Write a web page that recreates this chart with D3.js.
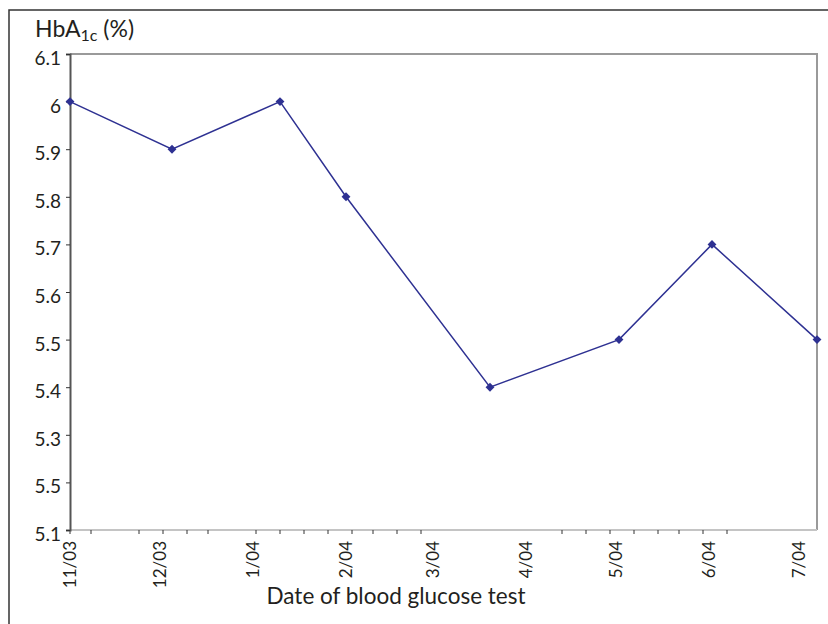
<!DOCTYPE html>
<html>
<head>
<meta charset="utf-8">
<script src="https://cdn.jsdelivr.net/npm/d3@7"></script>
<style>
  body { margin: 0; background: #fff; }
  text { font-family: Lato, "Open Sans", sans-serif; fill: #231f20; }
</style>
</head>
<body>
<svg id="id_svg" width="828" height="624"></svg>
<script>
// test dates and HbA1c values
dates = ["2003-11-01", "2003-12-05", "2004-01-10", "2004-02-01", "2004-03-20", "2004-05-02", "2004-06-02", "2004-07-07"]
values = [6.0, 5.9, 6.0, 5.8, 5.4, 5.5, 5.7, 5.5]

// y ticks, labels as printed (the second-lowest really does read 5.5)
yTicks = [6.1, 6.0, 5.9, 5.8, 5.7, 5.6, 5.5, 5.4, 5.3, 5.2, 5.1]
yLabels = ["6.1", "6", "5.9", "5.8", "5.7", "5.6", "5.5", "5.4", "5.3", "5.5", "5.1"]

// month labels along the bottom
monthDates = ["2003-11-01", "2003-12-01", "2004-01-01", "2004-02-01", "2004-03-01", "2004-04-01", "2004-05-01", "2004-06-01", "2004-07-01"]
monthLabels = ["11/03", "12/03", "1/04", "2/04", "3/04", "4/04", "5/04", "6/04", "7/04"]

// small tick marks on the date axis
minorTicks = ["2003-11-01", "2003-11-08", "2003-11-24", "2003-12-02", "2003-12-10", "2003-12-17",
    "2004-01-02", "2004-01-10", "2004-01-18", "2004-01-26", "2004-02-03", "2004-02-10",
    "2004-02-18", "2004-02-26", "2004-04-13", "2004-04-21", "2004-04-29", "2004-05-07",
    "2004-05-15", "2004-05-22", "2004-05-30", "2004-06-07"]

xDomain = ["2003-11-01", "2004-07-07"]

chart = function() {
    const margin = { left: 70, right: 11, top: 54, bottom: 94 },
        width = 828,
        height = 624,
        parse = d3.utcParse("%Y-%m-%d");

    const svg = d3.select("#id_svg");

    const x = d3.scaleUtc()
        .domain(xDomain.map(parse))
        .range([margin.left, width - margin.right]);

    const y = d3.scaleLinear()
        .domain([5.1, 6.1])
        .range([height - margin.bottom, margin.top]);

    // outer frame (only top and left show in the picture)
    svg.append("path")
        .attr("d", `M9,${height} V10 H${width}`)
        .attr("fill", "none")
        .attr("stroke", "#333")
        .attr("stroke-width", 1.5);

    // plot border: top and right in grey
    svg.append("path")
        .attr("d", `M${margin.left},${y(6.1)} H${x.range()[1]} V${y(5.1)}`)
        .attr("fill", "none")
        .attr("stroke", "#9a9a9a")
        .attr("stroke-width", 2);

    // bottom axis line
    svg.append("line")
        .attr("x1", margin.left).attr("x2", x.range()[1])
        .attr("y1", y(5.1)).attr("y2", y(5.1))
        .attr("stroke", "#c4c4c4")
        .attr("stroke-width", 2);

    svg.append("g")
        .selectAll("line")
        .data(minorTicks.map(parse))
        .join("line")
        .attr("x1", d => x(d)).attr("x2", d => x(d))
        .attr("y1", y(5.1)).attr("y2", y(5.1) + 4)
        .attr("stroke", "#333")
        .attr("stroke-width", 1);

    svg.append("g")
        .selectAll("text")
        .data(monthDates.map(parse))
        .join("text")
        .attr("transform", d => `translate(${x(d)},${y(5.1) + 11}) rotate(-90)`)
        .attr("text-anchor", "end")
        .attr("dy", "0.36em")
        .attr("font-size", 17)
        .text((d, i) => monthLabels[i]);

    // left axis
    const yAxis = d3.axisLeft(y)
        .tickValues(yTicks)
        .tickSize(4)
        .tickFormat((d, i) => yLabels[i]);

    const gy = svg.append("g")
        .attr("transform", `translate(${margin.left},0)`)
        .call(yAxis);
    gy.select(".domain").attr("stroke", "#555").attr("stroke-width", 2);
    gy.selectAll(".tick line").attr("stroke", "#333");
    gy.selectAll(".tick text")
        .attr("x", -9)
        .attr("dy", "0.55em")
        .attr("font-size", 19)
        .attr("font-family", "Lato, sans-serif")
        .attr("fill", "#231f20");

    // the series
    const line = d3.line()
        .x((d, i) => x(parse(dates[i])))
        .y(d => y(d));

    svg.append("path")
        .datum(values)
        .attr("d", line)
        .attr("fill", "none")
        .attr("stroke", "#2e3192")
        .attr("stroke-width", 1.5);

    svg.append("g")
        .selectAll("path")
        .data(values)
        .join("path")
        .attr("transform", (d, i) => `translate(${x(parse(dates[i]))},${y(d)})`)
        .attr("d", d3.symbol(d3.symbolDiamond2, 50))
        .attr("fill", "#2e3192");

    // titles
    const t = svg.append("text")
        .attr("x", 35)
        .attr("y", 37)
        .attr("font-size", 23);
    t.append("tspan").text("HbA");
    t.append("tspan").attr("font-size", 16).attr("dy", 4).text("1c");
    t.append("tspan").attr("dy", -4).text(" (%)");

    svg.append("text")
        .attr("x", 396)
        .attr("y", 604)
        .attr("text-anchor", "middle")
        .attr("font-size", 22.5)
        .text("Date of blood glucose test");

    return svg.node();
}
chart()
</script>
</body>
</html>
